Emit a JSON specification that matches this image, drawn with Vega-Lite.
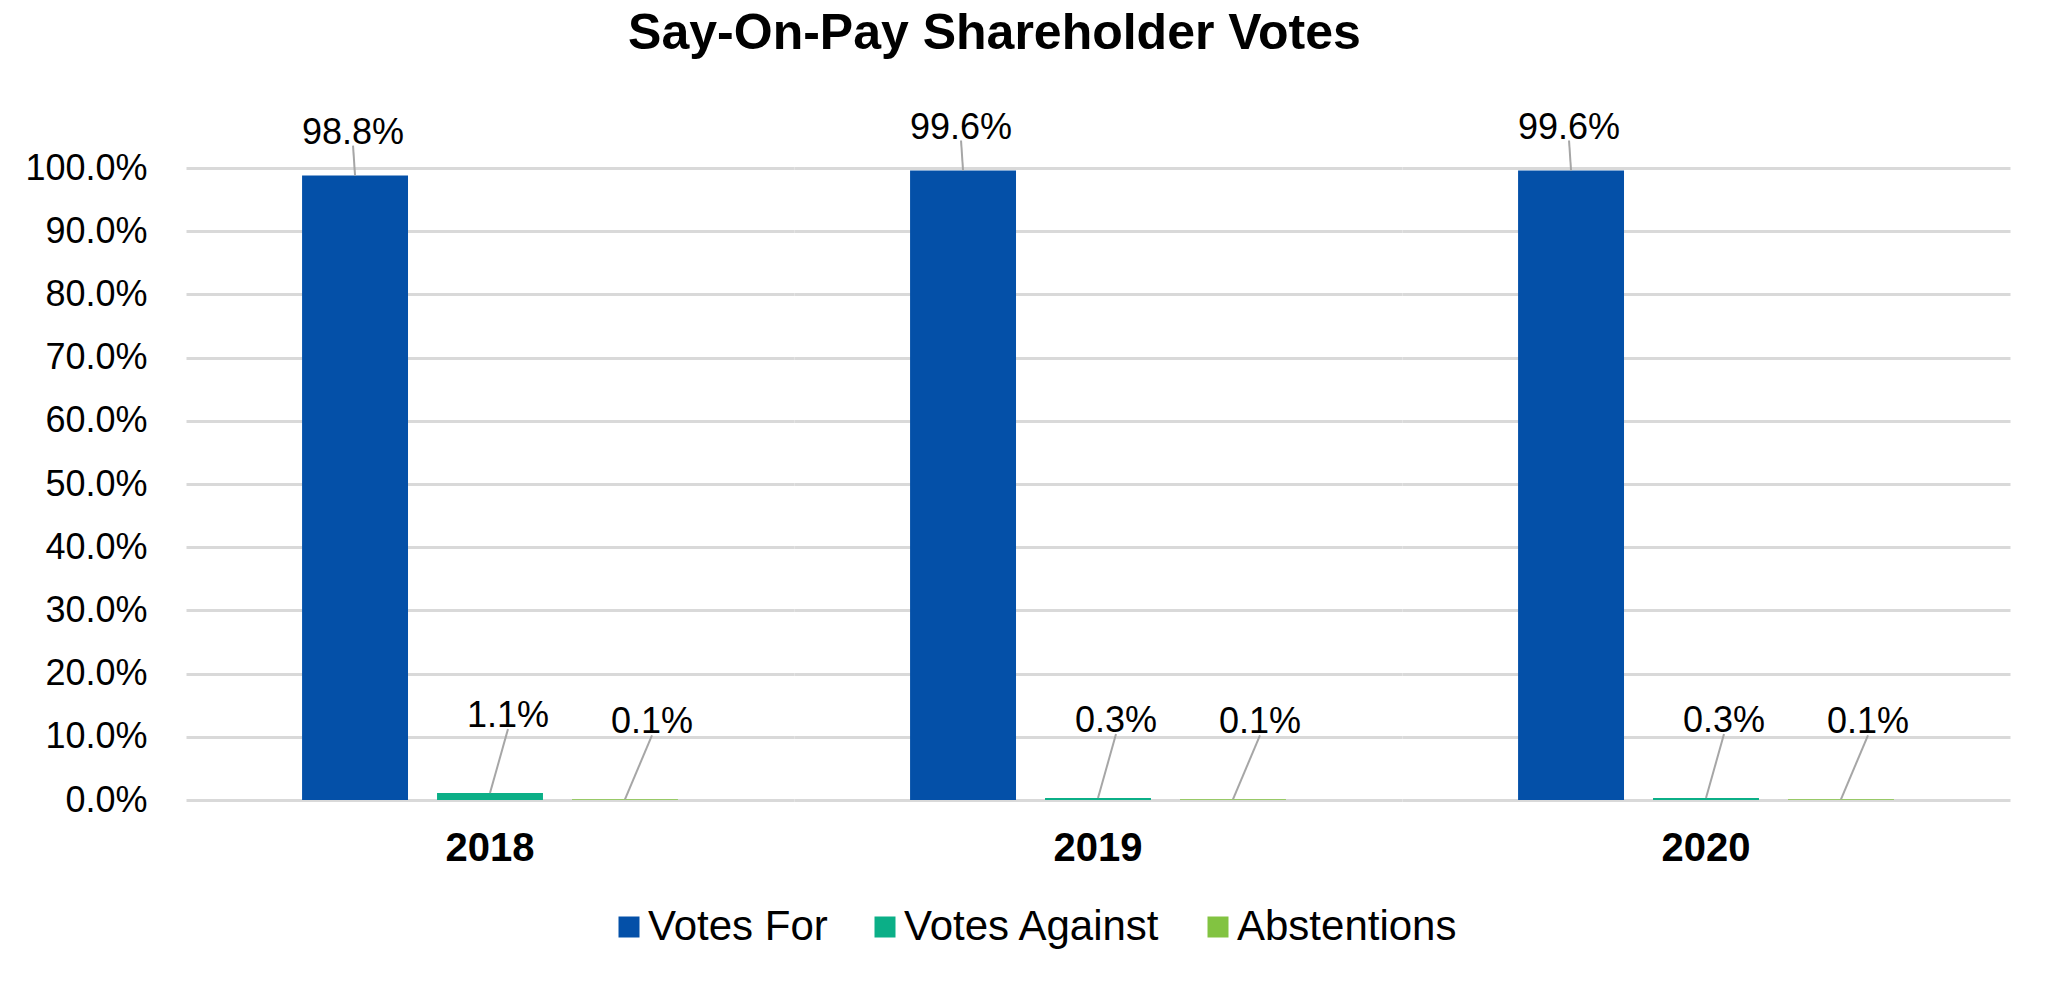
{
  "$schema": "https://vega.github.io/schema/vega-lite/v6.json",
  "background": "white",
  "padding": {"left": 24, "top": 8, "right": 45, "bottom": 20},
  "title": {
    "text": "Say-On-Pay Shareholder Votes",
    "font": "Liberation Sans",
    "fontSize": 50,
    "fontWeight": "bold",
    "color": "#000000",
    "anchor": "middle",
    "frame": "bounds",
    "dx": -23,
    "offset": 51
  },
  "data": {
    "values": [
      {"year": "2018", "series": "Votes For", "value": 0.988},
      {"year": "2018", "series": "Votes Against", "value": 0.011},
      {"year": "2018", "series": "Abstentions", "value": 0.001},
      {"year": "2019", "series": "Votes For", "value": 0.996},
      {"year": "2019", "series": "Votes Against", "value": 0.003},
      {"year": "2019", "series": "Abstentions", "value": 0.001},
      {"year": "2020", "series": "Votes For", "value": 0.996},
      {"year": "2020", "series": "Votes Against", "value": 0.003},
      {"year": "2020", "series": "Abstentions", "value": 0.001}
    ]
  },
  "spacing": 0,
  "facet": {
    "column": {
      "field": "year",
      "type": "ordinal",
      "title": null,
      "header": {
        "labelOrient": "bottom",
        "labelFont": "Liberation Sans",
        "labelFontSize": 40,
        "labelFontWeight": "bold",
        "labelColor": "#000000",
        "labelBaseline": "alphabetic",
        "labelPadding": 60
      }
    }
  },
  "spec": {
    "width": 608,
    "height": 632,
    "encoding": {
      "x": {
        "field": "series",
        "type": "nominal",
        "sort": ["Votes For", "Votes Against", "Abstentions"],
        "axis": null,
        "scale": {"paddingInner": 0.215, "paddingOuter": 0.86}
      },
      "y": {
        "field": "value",
        "type": "quantitative",
        "scale": {"domain": [0, 1], "nice": false},
        "axis": {
          "values": [0, 0.1, 0.2, 0.3, 0.4, 0.5, 0.6, 0.7, 0.8, 0.9, 1.0],
          "format": ".1%",
          "title": null,
          "domain": false,
          "ticks": false,
          "labelPadding": 39,
          "labelFont": "Liberation Sans",
          "labelFontSize": 36,
          "labelColor": "#000000",
          "gridColor": "#D9D9D9",
          "gridWidth": 3
        }
      }
    },
    "layer": [
      {
        "mark": {"type": "bar"},
        "encoding": {
          "color": {
            "field": "series",
            "type": "nominal",
            "scale": {
              "domain": ["Votes For", "Votes Against", "Abstentions"],
              "range": ["#0450A8", "#0BAF87", "#82C341"]
            },
            "legend": {
              "title": null,
              "orient": "none",
              "legendX": 422,
              "legendY": 738,
              "direction": "horizontal",
              "symbolType": "square",
              "symbolSize": 441,
              "symbolStrokeWidth": 0,
              "labelFont": "Liberation Sans",
              "labelFontSize": 42,
              "labelColor": "#000000",
              "labelLimit": 0,
              "labelOffset": -2,
              "columnPadding": 36,
              "padding": 0
            }
          }
        }
      },
      {
        "transform": [{"filter": "datum.series === 'Votes For'"}],
        "mark": {"type": "rule", "color": "#A6A6A6", "strokeWidth": 2, "y2Offset": -30, "x2Offset": -2},
        "encoding": {
          "x2": {"field": "series"},
          "y2": {"field": "value"}
        }
      },
      {
        "transform": [{"filter": "datum.series === 'Votes Against'"}],
        "mark": {"type": "rule", "color": "#A6A6A6", "strokeWidth": 2, "y2Offset": -64, "x2Offset": 18},
        "encoding": {
          "x2": {"field": "series"},
          "y2": {"field": "value"}
        }
      },
      {
        "transform": [{"filter": "datum.series === 'Abstentions'"}],
        "mark": {"type": "rule", "color": "#A6A6A6", "strokeWidth": 2, "y2Offset": -64, "x2Offset": 27},
        "encoding": {
          "x2": {"field": "series"},
          "y2": {"field": "value"}
        }
      },
      {
        "transform": [{"filter": "datum.series === 'Votes For'"}],
        "mark": {"type": "text", "font": "Liberation Sans", "fontSize": 36, "color": "#000000", "baseline": "alphabetic", "dy": -32, "dx": -2},
        "encoding": {"text": {"field": "value", "type": "quantitative", "format": ".1%"}}
      },
      {
        "transform": [{"filter": "datum.series === 'Votes Against'"}],
        "mark": {"type": "text", "font": "Liberation Sans", "fontSize": 36, "color": "#000000", "baseline": "alphabetic", "dy": -66, "dx": 18},
        "encoding": {"text": {"field": "value", "type": "quantitative", "format": ".1%"}}
      },
      {
        "transform": [{"filter": "datum.series === 'Abstentions'"}],
        "mark": {"type": "text", "font": "Liberation Sans", "fontSize": 36, "color": "#000000", "baseline": "alphabetic", "dy": -66, "dx": 27},
        "encoding": {"text": {"field": "value", "type": "quantitative", "format": ".1%"}}
      }
    ]
  },
  "config": {
    "view": {"stroke": null},
    "font": "Liberation Sans"
  }
}
